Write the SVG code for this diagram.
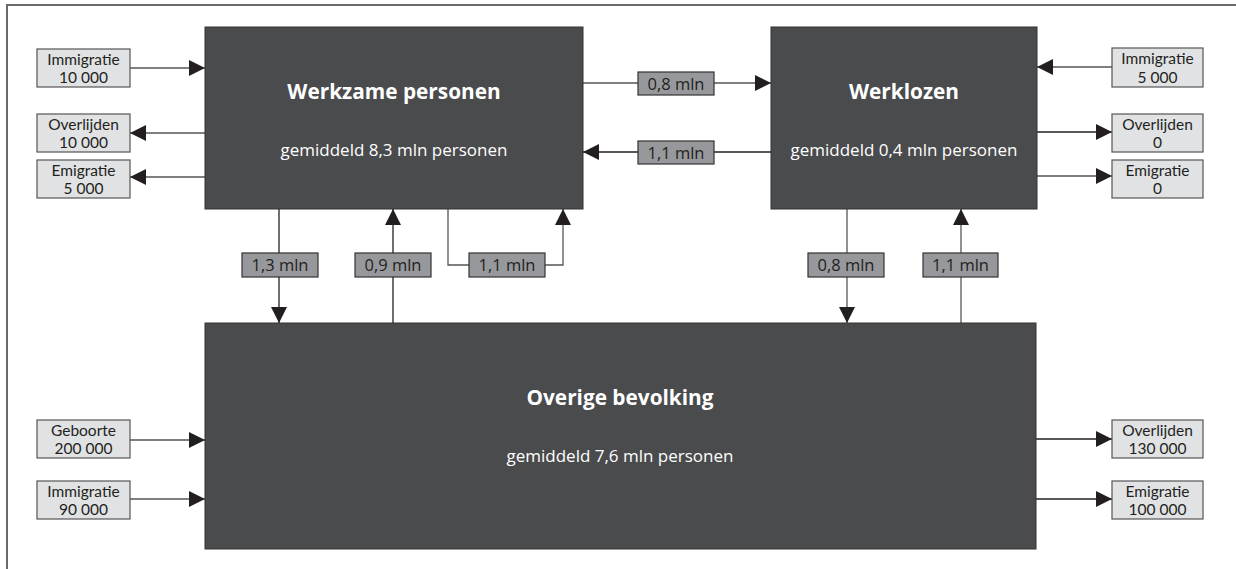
<svg xmlns="http://www.w3.org/2000/svg" width="1236" height="569" viewBox="0 0 1236 569">
<defs>
<marker id="ah" markerWidth="16" markerHeight="16" refX="16" refY="8" orient="auto" markerUnits="userSpaceOnUse">
<path d="M0,0 L16,8 L0,16 Z" fill="#231f20"/>
</marker>
<style>
.frame{stroke:#6a6a6a;stroke-width:2;fill:none}
.big{fill:#4a4b4d;stroke:#333;stroke-width:1}
.small{fill:#e1e2e4;stroke:#555;stroke-width:1.2}
.lab{fill:#97989b;stroke:#333;stroke-width:1.2}
.ln{stroke:#555;stroke-width:1.3;fill:none}
.lnk{stroke:#231f20;stroke-width:1.3;fill:none}
text{font-family:"Open Sans","Noto Sans","Liberation Sans",sans-serif}
.t{font-family:Lato,"Open Sans",sans-serif;font-size:15.5px;fill:#231f20;text-anchor:middle}
.lt{font-size:16.5px;fill:#231f20;text-anchor:middle}
.h{font-size:20.8px;font-weight:bold;fill:#fff;text-anchor:middle}
.s{font-size:17px;fill:#fff;text-anchor:middle}
</style>
</defs>
<path class="frame" d="M7,569 L7,5 L1236,5"/>

<g id="connectors">
<line class="ln" x1="130" y1="68" x2="205" y2="68" marker-end="url(#ah)"/>
<line class="ln" x1="205" y1="133" x2="130" y2="133" marker-end="url(#ah)"/>
<line class="ln" x1="205" y1="177" x2="130" y2="177" marker-end="url(#ah)"/>
<line class="ln" x1="583" y1="83" x2="771" y2="83" marker-end="url(#ah)"/>
<line class="lnk" x1="771" y1="152" x2="583" y2="152" marker-end="url(#ah)"/>
<line class="ln" x1="1112" y1="67" x2="1037" y2="67" marker-end="url(#ah)"/>
<line class="lnk" x1="1037" y1="132" x2="1112" y2="132" marker-end="url(#ah)"/>
<line class="ln" x1="1037" y1="176" x2="1112" y2="176" marker-end="url(#ah)"/>
<line class="lnk" x1="279" y1="209" x2="279" y2="323" marker-end="url(#ah)"/>
<line class="lnk" x1="393" y1="323" x2="393" y2="209" marker-end="url(#ah)"/>
<path class="ln" d="M448,209 L448,265 L563,265 L563,209" marker-end="url(#ah)"/>
<line class="ln" x1="847" y1="209" x2="847" y2="323" marker-end="url(#ah)"/>
<line class="ln" x1="961" y1="323" x2="961" y2="209" marker-end="url(#ah)"/>
<line class="ln" x1="130" y1="440" x2="205" y2="440" marker-end="url(#ah)"/>
<line class="ln" x1="130" y1="499" x2="205" y2="499" marker-end="url(#ah)"/>
<line class="lnk" x1="1036" y1="439" x2="1112" y2="439" marker-end="url(#ah)"/>
<line class="lnk" x1="1036" y1="499" x2="1112" y2="499" marker-end="url(#ah)"/>
</g>

<g id="werkzame">
<rect class="big" x="205" y="27" width="378" height="182"/>
<text class="h" x="394" y="99">Werkzame personen</text>
<text class="s" x="394" y="156">gemiddeld 8,3 mln personen</text>
</g>
<g id="werklozen">
<rect class="big" x="771" y="27" width="266" height="182"/>
<text class="h" x="904" y="99">Werklozen</text>
<text class="s" x="904" y="156">gemiddeld 0,4 mln personen</text>
</g>
<g id="overige">
<rect class="big" x="205" y="323" width="831" height="226"/>
<text class="h" x="620" y="405">Overige bevolking</text>
<text class="s" x="620" y="462">gemiddeld 7,6 mln personen</text>
</g>

<g id="imm1"><rect class="small" x="37" y="49" width="93" height="38"/><text class="t"><tspan x="83.5" y="64.5">Immigratie</tspan><tspan x="83.5" y="83">10 000</tspan></text></g>
<g id="ovl1"><rect class="small" x="37" y="114" width="93" height="38"/><text class="t"><tspan x="83.5" y="129.5">Overlijden</tspan><tspan x="83.5" y="148">10 000</tspan></text></g>
<g id="emi1"><rect class="small" x="37" y="160" width="93" height="38"/><text class="t"><tspan x="83.5" y="175.5">Emigratie</tspan><tspan x="83.5" y="194">5 000</tspan></text></g>

<g id="imm2"><rect class="small" x="1112" y="48" width="91" height="39"/><text class="t"><tspan x="1157.5" y="64">Immigratie</tspan><tspan x="1157.5" y="82.5">5 000</tspan></text></g>
<g id="ovl2"><rect class="small" x="1112" y="114" width="91" height="38"/><text class="t"><tspan x="1157.5" y="129.5">Overlijden</tspan><tspan x="1157.5" y="148">0</tspan></text></g>
<g id="emi2"><rect class="small" x="1112" y="160" width="91" height="38"/><text class="t"><tspan x="1157.5" y="175.5">Emigratie</tspan><tspan x="1157.5" y="194">0</tspan></text></g>

<g id="geb"><rect class="small" x="37" y="420" width="93" height="38"/><text class="t"><tspan x="83.5" y="435.5">Geboorte</tspan><tspan x="83.5" y="454">200 000</tspan></text></g>
<g id="imm3"><rect class="small" x="37" y="481" width="93" height="38"/><text class="t"><tspan x="83.5" y="496.5">Immigratie</tspan><tspan x="83.5" y="515">90 000</tspan></text></g>

<g id="ovl3"><rect class="small" x="1112" y="420" width="91" height="38"/><text class="t"><tspan x="1157.5" y="435.5">Overlijden</tspan><tspan x="1157.5" y="454">130 000</tspan></text></g>
<g id="emi3"><rect class="small" x="1112" y="481" width="91" height="38"/><text class="t"><tspan x="1157.5" y="496.5">Emigratie</tspan><tspan x="1157.5" y="515">100 000</tspan></text></g>

<g id="l1"><rect class="lab" x="638" y="72" width="76" height="23"/><text class="lt" x="676" y="90">0,8 mln</text></g>
<g id="l2"><rect class="lab" x="638" y="141" width="76" height="23"/><text class="lt" x="676" y="159">1,1 mln</text></g>
<g id="l3"><rect class="lab" x="242" y="253" width="76" height="24"/><text class="lt" x="280" y="271">1,3 mln</text></g>
<g id="l4"><rect class="lab" x="355" y="253" width="76" height="24"/><text class="lt" x="393" y="271">0,9 mln</text></g>
<g id="l5"><rect class="lab" x="469" y="253" width="76" height="24"/><text class="lt" x="507" y="271">1,1 mln</text></g>
<g id="l6"><rect class="lab" x="808" y="253" width="76" height="24"/><text class="lt" x="846" y="271">0,8 mln</text></g>
<g id="l7"><rect class="lab" x="923" y="253" width="75" height="24"/><text class="lt" x="960.5" y="271">1,1 mln</text></g>
</svg>
